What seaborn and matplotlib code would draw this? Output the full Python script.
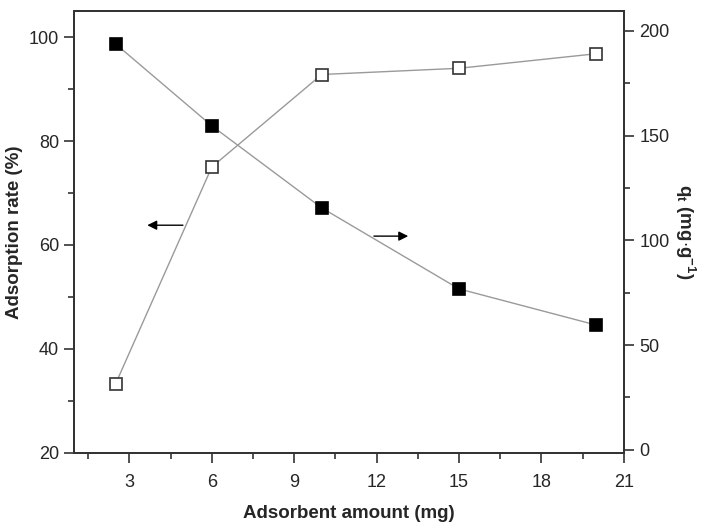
import numpy as np
import pandas as pd
import matplotlib
matplotlib.use('Agg')
import matplotlib.pyplot as plt
import seaborn as sns
from matplotlib.ticker import MultipleLocator

# data
amount = [2.5, 6, 10, 15, 20]
rate = [33.3, 75.0, 92.8, 94.0, 96.8]      # adsorption rate (%), left axis
qt = [193.8, 154.7, 115.5, 76.8, 59.5]     # q_t (mg/g), right axis

df = pd.DataFrame({'amount': amount, 'rate': rate, 'qt': qt})

sns.set_style('ticks')
plt.rcParams['font.family'] = ['Liberation Sans', 'DejaVu Sans']
# bold mathtext for the q_t label
plt.rcParams['mathtext.fontset'] = 'custom'
plt.rcParams['mathtext.rm'] = 'Liberation Sans:bold'
plt.rcParams['mathtext.it'] = 'Liberation Sans:bold'
plt.rcParams['mathtext.bf'] = 'Liberation Sans:bold'
plt.rcParams['mathtext.default'] = 'rm'
plt.rcParams['axes.linewidth'] = 1.3
plt.rcParams['axes.edgecolor'] = '#333333'

fig = plt.figure(figsize=(7.09, 5.29), dpi=100)
ax = fig.add_axes([0.105, 0.144, 0.775, 0.835])
ax2 = ax.twinx()

line_kw = dict(color='#9a9a9a', linewidth=1.0, marker='s', markersize=9,
               markeredgewidth=1.2)
sns.lineplot(data=df, x='amount', y='rate', ax=ax, markerfacecolor='white',
             markeredgecolor='#333333', **line_kw)
sns.lineplot(data=df, x='amount', y='qt', ax=ax2, markerfacecolor='black',
             markeredgecolor='black', **line_kw)

ax.set_xlim(1, 21)
ax.set_ylim(20, 105)
ax2.set_ylim(-1.5, 209.5)

ax.xaxis.set_major_locator(MultipleLocator(3))
ax.xaxis.set_minor_locator(MultipleLocator(1.5))
ax.yaxis.set_major_locator(MultipleLocator(20))
ax.yaxis.set_minor_locator(MultipleLocator(10))
ax2.yaxis.set_major_locator(MultipleLocator(50))
ax2.yaxis.set_minor_locator(MultipleLocator(25))
ax.set_xticks([3, 6, 9, 12, 15, 18, 21])

for a in (ax, ax2):
    a.tick_params(which='major', direction='out', length=7, width=1.2,
                  color='#333333', labelsize=13, pad=4)
    a.tick_params(which='minor', direction='out', length=4, width=1.2,
                  color='#333333')
ax.tick_params(axis='x', pad=8)
ax.tick_params(right=False, top=False, which='both')
ax2.tick_params(axis='y', left=False, which='both')

ax.set_xlabel('Adsorbent amount (mg)', fontsize=13.5, fontweight='bold',
              labelpad=10)
ax.set_ylabel('Adsorption rate (%)', fontsize=13.5, fontweight='bold',
              labelpad=4)
ax2.set_ylabel(r'q$_t$ (mg$\cdot$g$^{-1}$)', fontsize=13.5, fontweight='bold',
               rotation=270, labelpad=20)

# direction arrows
arrow = dict(arrowstyle='-|>', color='black', lw=1.0, mutation_scale=14)
ax.annotate('', xy=(3.55, 63.8), xytext=(5.05, 63.8), arrowprops=arrow)
ax.annotate('', xy=(13.25, 61.7), xytext=(11.8, 61.7), arrowprops=arrow)

plt.savefig('out.png', dpi=100)
